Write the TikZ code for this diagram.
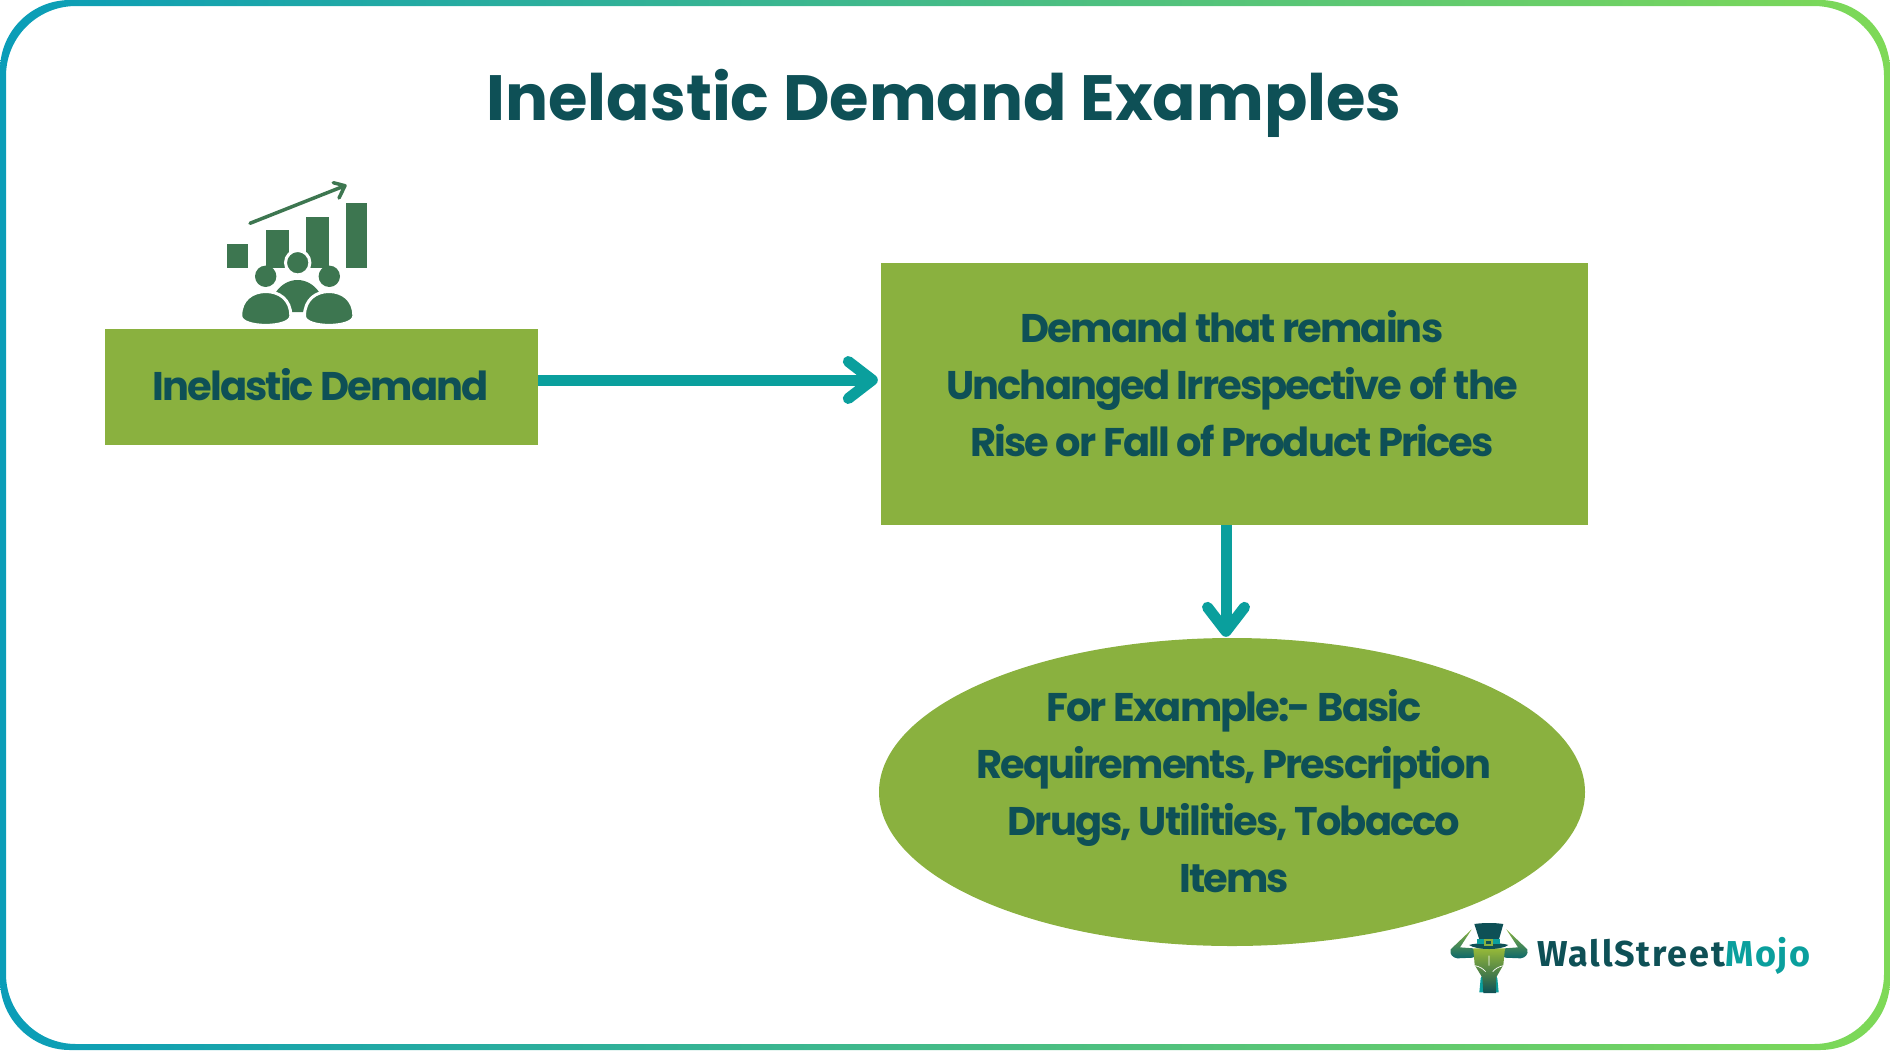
\documentclass[tikz,border=0pt]{standalone}
\usepackage{fontspec}
\usetikzlibrary{shapes.geometric,arrows.meta}
\setmainfont{Poppins}
\newfontfamily\boxfont{Poppins}[LetterSpace=-4.8]
\newfontfamily\logofont{Fira Sans}[LetterSpace=5]
\definecolor{ink}{HTML}{0E5056}
\definecolor{boxgreen}{HTML}{8AB13F}
\definecolor{teal}{HTML}{0A9F9D}
\definecolor{iconGreen}{HTML}{3D7650}
\definecolor{edgeL}{HTML}{0A9DB8}
\definecolor{edgeR}{HTML}{7ED957}
\tikzset{
  x=1pt,y=-1pt,
  boxnode/.style={fill=boxgreen,text=ink,inner sep=0pt,align=center},
  boxtext/.style={text=ink,inner sep=0pt,align=center,
    font=\boxfont\bfseries\fontsize{40}{57}\selectfont},
  flow/.style={draw=teal,line width=11pt,
    -{Straight Barb[round,length=24pt,width=37pt,line width=11pt]}},
  iconfill/.style={fill=iconGreen,draw=none},
  ring/.style={fill=iconGreen,draw=white,line width=3pt},
}
\begin{document}
\begin{tikzpicture}
\useasboundingbox (0,0) rectangle (1890,1050);
% border
\shade[left color=edgeL,right color=edgeR,even odd rule,rounded corners=70pt]
  (0,0) rectangle (1890,1050) (6,6) rectangle (1884,1044);
% title
\node[text=ink,font=\bfseries\fontsize{64}{74}\selectfont] (title) at (944,103) {Inelastic Demand Examples};
% boxes
\node[boxnode,minimum width=433pt,minimum height=116pt] (a) at (321.5,387) {};
\node[boxtext] (atext) at (320.5,385) {Inelastic Demand};
\node[boxnode,minimum width=707pt,minimum height=262pt] (b) at (1234.5,393.5) {};
\node[boxtext] (btext) at (1232,383.5)
  {Demand that remains\\Unchanged Irrespective of the\\Rise or Fall of Product Prices};
\node[boxnode,ellipse,minimum width=706pt,minimum height=308pt] (c) at (1232,792) {};
\node[boxtext] (ctext) at (1234,791.5)
  {For Example:- Basic\\Requirements, Prescription\\Drugs, Utilities, Tobacco\\Items};
% connectors
\coordinate (h) at (0,380);
\coordinate (v) at (1226,0);
\draw[flow,shorten >=3pt] (a.east|-h) -- (b.west|-h);
\draw[flow,shorten >=1pt] (b.south-|v) -- (c.north-|v);
% chart icon
\fill[iconfill] (226.7,244) rectangle (248.3,268.3);
\fill[iconfill] (266,230.3) rectangle (288.7,268.3);
\fill[iconfill] (306.3,217) rectangle (328.7,268.3);
\fill[iconfill] (346.3,203.3) rectangle (367,268.3);
\draw[iconGreen,line width=3.5pt,line cap=round,line join=round]
  (250,223.3) -- (345,185.7) (333.3,182.7) -- (345,185.7) -- (339,198);
\fill[iconfill] (276,292) .. controls (287,276) and (308,276) .. (319,292)
  -- (303,312) -- (291.5,312) -- cycle;
\path[ring] (240.8,316) .. controls (240.5,299) and (253,291.5) .. (265.8,291.5)
  .. controls (278.5,291.5) and (291,299) .. (290.8,316)
  .. controls (290.5,328.5) and (241,328.5) .. (240.8,316) -- cycle;
\path[ring] (304.5,316) .. controls (304.5,299) and (316.5,291.5) .. (329,291.5)
  .. controls (341.5,291.5) and (354,299) .. (353.8,316)
  .. controls (353.5,328.5) and (304.5,328.5) .. (304.5,316) -- cycle;
\path[ring] (297.7,262.7) circle (12.2pt);
\fill[iconfill] (265.7,276.3) circle (10.7pt);
\fill[iconfill] (329.3,276.3) circle (10.7pt);
% logo
\begin{scope}[shift={(1440,915)},x=0.3333pt,y=-0.3333pt]
  \shade[top color=boxgreen,bottom color=ink!70!teal]
    (95,43) -- (32,103) .. controls (28,118) and (38,128) .. (52,130) -- (100,128) -- (100,100) -- (60,97) -- cycle;
  \shade[top color=boxgreen,bottom color=ink!70!teal]
    (199,43) -- (262,103) .. controls (266,118) and (256,128) .. (242,130) -- (194,128) -- (194,100) -- (234,97) -- cycle;
  \fill[teal] (135,165) -- (159,165) -- (172,190) -- (176,232) -- (118,232) -- (122,190) -- cycle;
  \shade[top color=boxgreen!90!yellow,middle color=boxgreen!85!green,bottom color=ink]
    (100,100) -- (195,100) -- (190,150) -- (168,188) -- (168,234) -- (130,234) -- (127,188) -- (104,150) -- cycle;
  \fill[ink] (103,27) .. controls (130,23) and (165,23) .. (190,27) -- (175,80) -- (120,80) -- cycle;
  \fill[ink] (87,90) .. controls (110,82) and (185,82) .. (205,90) .. controls (185,106) and (110,106) .. (87,90) -- cycle;
  \fill[teal] (112,73) rectangle (180,88);
  \fill[boxgreen] (133,71) rectangle (160,92);
  \fill[ink] (139,77) rectangle (154,86);
  \draw[white,line width=0.7pt] (105,152) .. controls (120,155) and (130,162) .. (137,170)
    (190,152) .. controls (175,155) and (165,162) .. (158,170) (147,122) -- (147,152);
\end{scope}
\node[inner sep=0pt,anchor=base west,font=\logofont\bfseries\fontsize{36}{40}\selectfont,text=ink] (logo) at (1537,966)
  {WallStreet{\color{teal}Mojo}};
\end{tikzpicture}
\end{document}
